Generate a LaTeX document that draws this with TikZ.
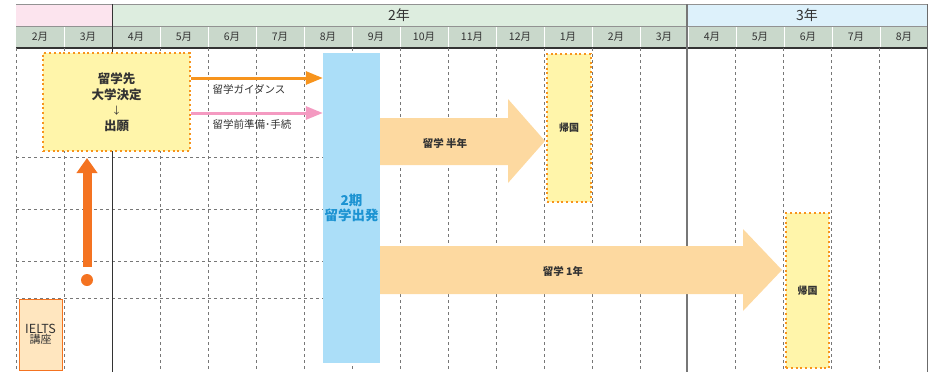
\documentclass[tikz,border=0pt]{standalone}
\usepackage{fontspec}
\setmainfont{Noto Sans CJK JP}
\usetikzlibrary{arrows.meta}
\definecolor{pinkband}{HTML}{FCE4EE}
\definecolor{greenband}{HTML}{DDEDDF}
\definecolor{blueband}{HTML}{DDF1FB}
\definecolor{monthrow}{HTML}{C9D8CB}
\definecolor{yfill}{HTML}{FFF5AA}
\definecolor{dotor}{HTML}{F7941D}
\definecolor{garrowc}{HTML}{F7941D}
\definecolor{parrowc}{HTML}{F49AC1}
\definecolor{bluebarc}{HTML}{ABDEF8}
\definecolor{bluetext}{HTML}{1C93D2}
\definecolor{bigarrowc}{HTML}{FDD9A0}
\definecolor{vorange}{HTML}{F47321}
\definecolor{ieltsfill}{HTML}{FFE6BF}
\definecolor{txt}{HTML}{333333}
\definecolor{gridc}{HTML}{777777}
\tikzset{
  gridline/.style={draw=gridc, line width=0.8pt, dash pattern=on 3pt off 3pt},
  ybox/.style={fill=yfill, draw=dotor, line width=2pt, dash pattern=on 2pt off 2.8pt, inner sep=0pt, align=center, text=txt},
  mlabel/.style={font=\fontsize{10.5}{12}\selectfont, text=txt},
  ylabel/.style={font=\fontsize{14}{16}\selectfont, text=txt},
  smalllbl/.style={font=\fontsize{10.5}{12}\selectfont, text=txt},
  biglbl/.style={font=\fontsize{10.5}{12}\selectfont\bfseries, text=txt},
  thinarrow/.style={line width=3pt, -{Triangle[length=17pt,width=13pt]}},
}
\begin{document}
\begin{tikzpicture}[x=1pt,y=-1pt]
\useasboundingbox (0,0) rectangle (935,372);
% header bands
\fill[pinkband] (16,4) rectangle (112,26);
\fill[greenband] (112,4) rectangle (687,26);
\fill[blueband] (687,4) rectangle (927,26);
\fill[monthrow] (16,26) rectangle (927,48);
\foreach \i in {1,...,18} \draw[white, line width=0.6pt] (16+48*\i,26.5) -- (16+48*\i,47.5);
\draw[gridc!80, line width=0.8pt] (16,4) -- (927,4);
\draw[gridc!80, line width=0.8pt] (16,26) -- (927,26);
\draw[txt, line width=1.2pt] (16,48) -- (927,48);
\node[ylabel] (y2) at (399,15.5) {2年};
\node[ylabel] (y3) at (807,15.5) {3年};
\foreach \mo [count=\i from 0] in {2,3,4,5,6,7,8,9,10,11,12,1,2,3,4,5,6,7,8}
  \node[mlabel] (m\i) at (40+48*\i,37) {\mo{}月};
% grid
\foreach \x in {16,64,160,208,256,304,352,400,448,496,544,592,640,735,783,831,879}
  \draw[gridline] (\x,48) -- (\x,372);
\foreach \y in {157,209,261,298}
  \draw[gridline] (16,\y) -- (323,\y);
\draw[txt, line width=1pt] (112,4) -- (112,372);
\draw[gridc, line width=1.5pt] (687,4) -- (687,372);
\draw[gridc!90!black, line width=1pt] (927,4) -- (927,372);
% blue bar
\node[fill=bluebarc, minimum width=57pt, minimum height=310pt, inner sep=0pt, align=center,
  text=bluetext, font=\fontsize{13.5}{15}\selectfont\bfseries] (shuppatsu) at (351.5,208) {2期\\留学出発};
% decision box
\node[ybox, minimum width=147pt, minimum height=98pt, font=\fontsize{12.5}{15.5}\selectfont\bfseries] (kettei) at (116.5,102)
  {留学先\\大学決定\\{\mdseries\fontsize{10}{11}\selectfont ↓}\\出願};
% thin arrows
\coordinate (ga) at (0,78);
\coordinate (pa) at (0,113);
\draw[thinarrow, garrowc] (kettei.east |- ga) -- (shuppatsu.west |- ga);
\draw[thinarrow, parrowc] (kettei.east |- pa) -- (shuppatsu.west |- pa);
\node[smalllbl] (guide) at (249,89.5) {留学ガイダンス};
\node[smalllbl] (junbi) at (252,124.5) {留学前準備･手続};
% big arrows
\fill[bigarrowc] (380,118) -- (508,118) -- (508,99) -- (545,141) -- (508,183) -- (508,165) -- (380,165) -- cycle;
\node[biglbl] (hantoshi) at (445,143) {留学\ 半年};
\fill[bigarrowc] (380,246) -- (743,246) -- (743,229) -- (782,270) -- (743,311) -- (743,294) -- (380,294) -- cycle;
\node[biglbl] (ichinen) at (563,271) {留学\ 1年};
% return boxes
\node[ybox, minimum width=44pt, minimum height=148pt, font=\fontsize{10}{11}\selectfont\bfseries] (kikoku1) at (569,128) {帰国};
\node[ybox, minimum width=43pt, minimum height=155pt, font=\fontsize{10}{11}\selectfont\bfseries] (kikoku2) at (807.5,290.5) {帰国};
% vertical arrow
\node[circle, fill=vorange, inner sep=0pt, minimum size=12pt] (dot) at (87,280) {};
\coordinate (vtip) at (87,158);
\draw[vorange, line width=9pt, -{Triangle[length=15pt,width=20pt]}] ([yshift=7pt]dot.north) -- (vtip);
% IELTS box
\node[fill=ieltsfill, draw=vorange, line width=1pt, minimum width=43pt, minimum height=71pt, inner sep=0pt,
  align=center, text=txt] (ielts) at (40.5,334.5)
  {{\fontsize{12.5}{14}\selectfont IELTS}\\[-2pt]{\fontsize{11}{13}\selectfont 講座}};
\end{tikzpicture}
\end{document}
